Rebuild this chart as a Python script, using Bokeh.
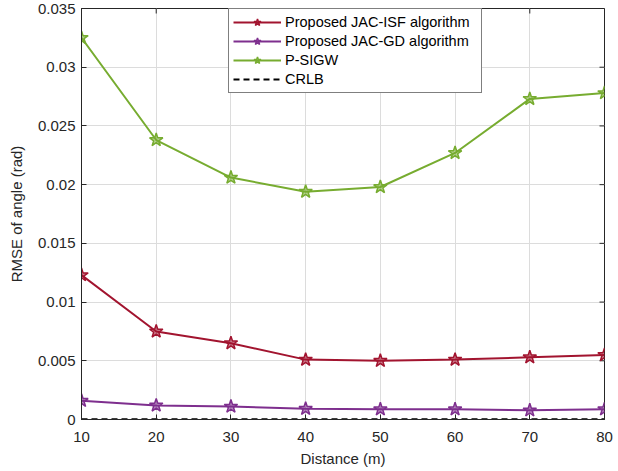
import math
from bokeh.plotting import figure
from bokeh.models import FixedTicker, Legend, LegendItem, Range1d
from bokeh.embed import file_html
from bokeh.resources import INLINE

# Distances (m)
distance = [10, 20, 30, 40, 50, 60, 70, 80]

# RMSE of angle (rad) for each method
jac_isf = [0.0123, 0.0075, 0.0065, 0.0051, 0.0050, 0.0051, 0.0053, 0.0055]
jac_gd = [0.0016, 0.0012, 0.0011, 0.00092, 0.00087, 0.00087, 0.00078, 0.00087]
p_sigw = [0.0325, 0.0238, 0.0206, 0.0194, 0.0198, 0.0227, 0.0273, 0.0278]
crlb = [0.00002, 0.00002, 0.00002, 0.00002, 0.00002, 0.00002, 0.00002, 0.00002]

x_ticks = [10, 20, 30, 40, 50, 60, 70, 80]
y_ticks = [0, 0.005, 0.01, 0.015, 0.02, 0.025, 0.03, 0.035]
y_tick_labels = {0: "0", 0.005: "0.005", 0.01: "0.01", 0.015: "0.015", 0.02: "0.02",
                 0.025: "0.025", 0.03: "0.03", 0.035: "0.035"}

FONT = "Liberation Sans"
INK = "#262626"

x_lo, x_hi = 10, 80
y_lo, y_hi = 0, 0.035

p = figure(width=618, height=471, output_backend="svg", toolbar_location=None,
           x_range=Range1d(x_lo, x_hi), y_range=Range1d(y_lo, y_hi),
           min_border_left=81, min_border_right=14, min_border_top=8, min_border_bottom=52,
           x_axis_label="Distance (m)", y_axis_label="RMSE of angle (rad)")

p.background_fill_color = "white"
p.border_fill_color = "white"
p.outline_line_color = INK
p.outline_line_width = 1

for ax in (p.xaxis[0], p.yaxis[0]):
    ax.major_tick_in = 5
    ax.major_tick_out = 0
    ax.minor_tick_in = 0
    ax.minor_tick_out = 0
    ax.axis_line_color = INK
    ax.major_tick_line_color = INK
    ax.major_label_text_font = FONT
    ax.major_label_text_font_size = "15px"
    ax.major_label_text_color = INK
    ax.axis_label_text_font = FONT
    ax.axis_label_text_font_size = "15px"
    ax.axis_label_text_font_style = "normal"
    ax.axis_label_text_color = INK

p.xaxis[0].ticker = FixedTicker(ticks=x_ticks)
p.yaxis[0].ticker = FixedTicker(ticks=y_ticks)
p.yaxis[0].major_label_overrides = y_tick_labels
p.xaxis[0].major_label_standoff = 12
p.xaxis[0].axis_label_standoff = 5
p.yaxis[0].major_label_standoff = 6
p.yaxis[0].axis_label_standoff = 10

# Inward ticks along the right and top edges of the box
p.ray(x=[x_hi] * len(y_ticks), y=y_ticks, length=5, length_units="screen",
      angle=math.pi, line_color=INK, line_width=1)
p.ray(x=x_ticks, y=[y_hi] * len(x_ticks), length=5, length_units="screen",
      angle=-math.pi / 2, line_color=INK, line_width=1)

p.xgrid.ticker = FixedTicker(ticks=x_ticks)
p.ygrid.ticker = FixedTicker(ticks=y_ticks)
p.xgrid.grid_line_color = "#dcdcdc"
p.ygrid.grid_line_color = "#dcdcdc"
p.xgrid.grid_line_width = 1
p.ygrid.grid_line_width = 1

series = [
    ("Proposed JAC-ISF algorithm", jac_isf, "#A2142F"),
    ("Proposed JAC-GD algorithm", jac_gd, "#7E2F8E"),
    ("P-SIGW", p_sigw, "#77AC30"),
]

items = []
for label, ys, color in series:
    ln = p.line(distance, ys, line_color=color, line_width=2)
    sc = p.scatter(distance, ys, marker="star", size=14, line_color=color,
                   fill_color=color, fill_alpha=0.55, line_width=1.5)
    items.append(LegendItem(label=label, renderers=[ln, sc]))

cr = p.line(distance, crlb, line_color="black", line_width=2, line_dash="6 4")
items.append(LegendItem(label="CRLB", renderers=[cr]))

legend = Legend(items=items, location=(147, 326))
legend.label_text_font = FONT
legend.label_text_font_size = "14.5px"
legend.label_text_color = "black"
legend.border_line_color = "black"
legend.border_line_width = 1
legend.background_fill_color = "white"
legend.background_fill_alpha = 1
legend.glyph_width = 48
legend.glyph_height = 18
legend.label_height = 18
legend.label_width = 192
legend.spacing = 1
legend.padding = 4
legend.margin = 0
legend.label_standoff = 4
p.add_layout(legend, "center")

open("out.html", "w").write(file_html(p, INLINE))
